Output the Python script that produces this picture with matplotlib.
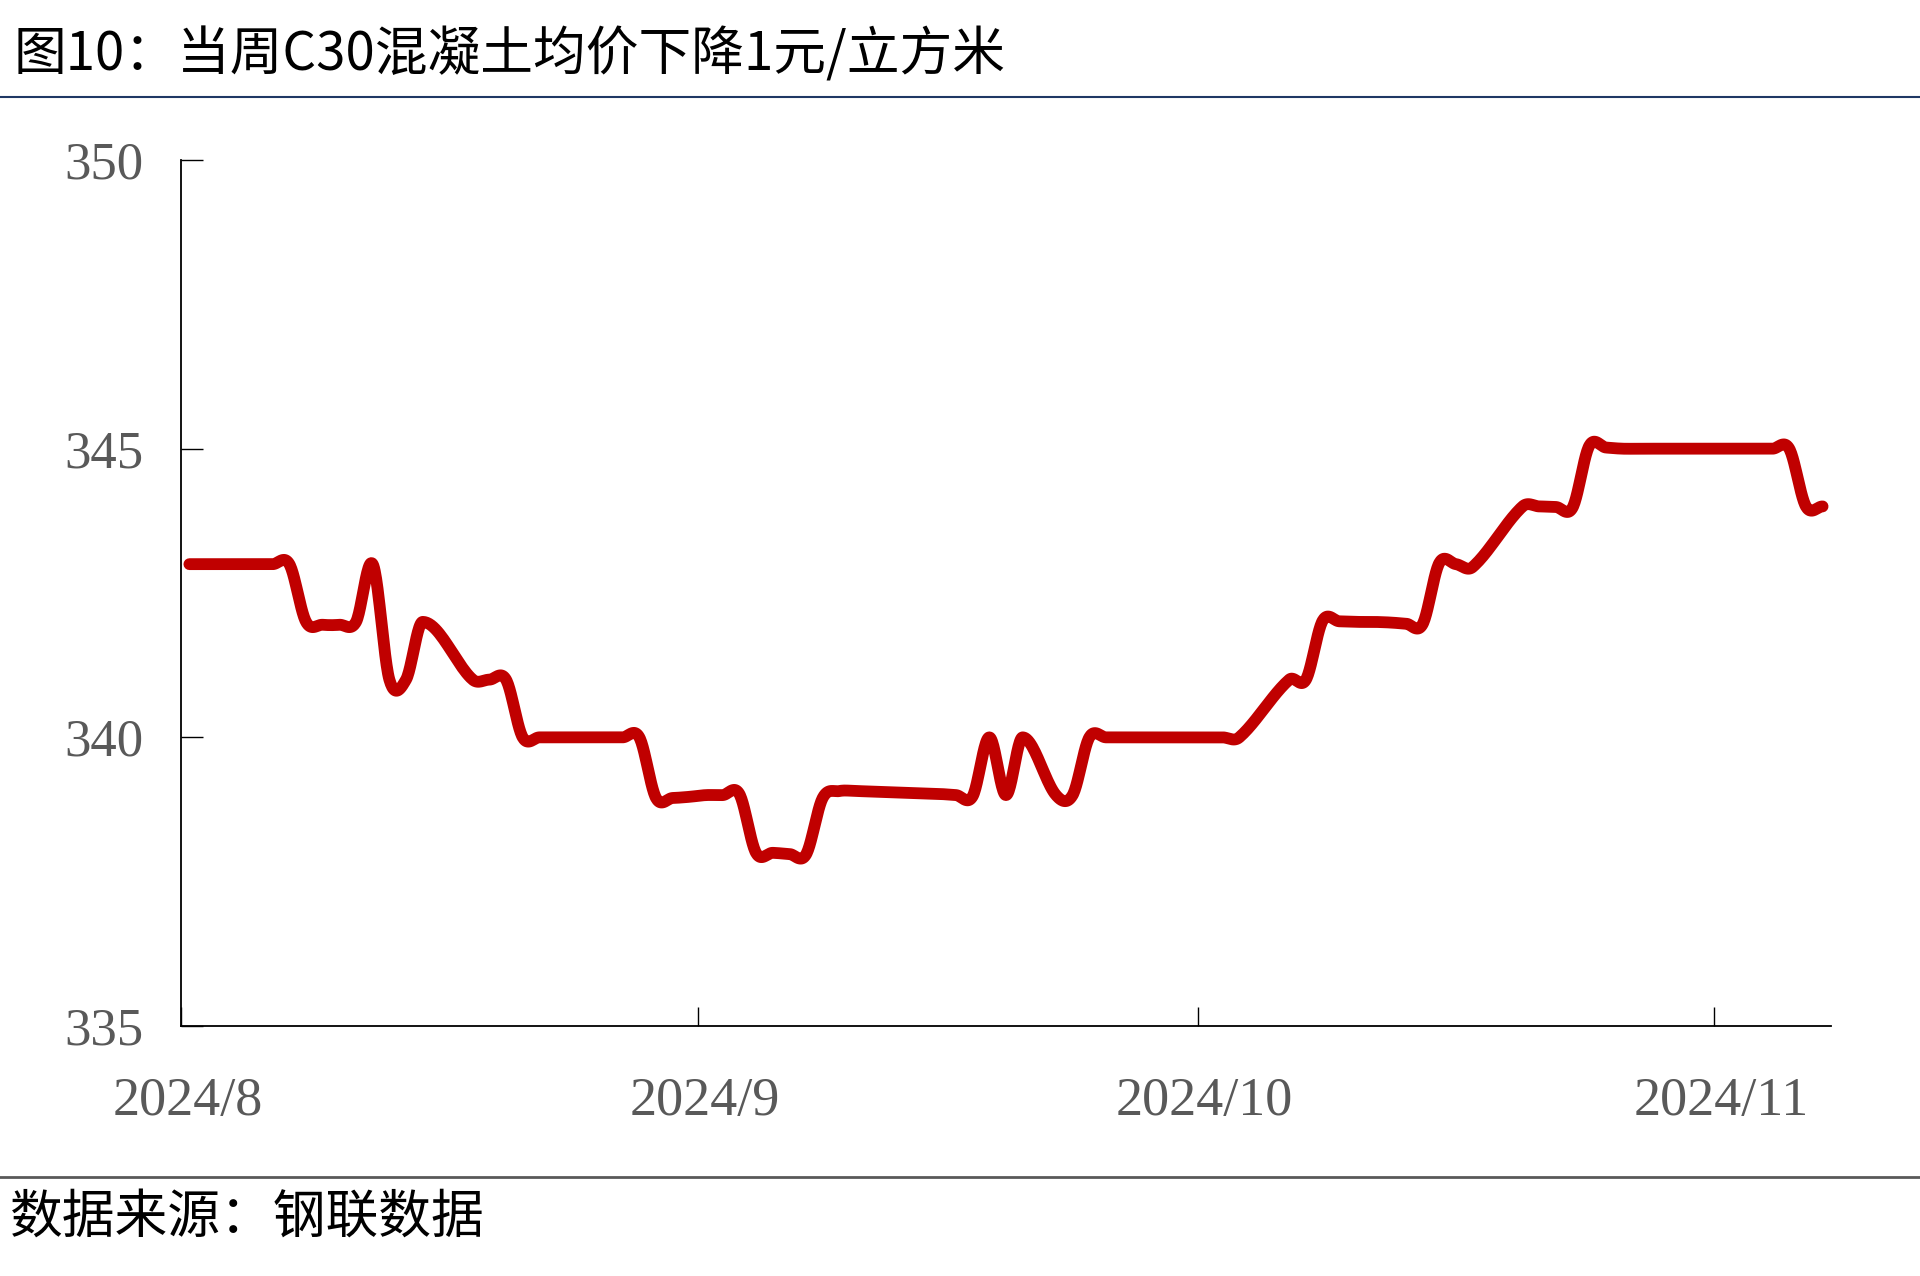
import numpy as np
import pandas as pd
import matplotlib
matplotlib.use("Agg")
import matplotlib.pyplot as plt
import matplotlib.dates as mdates
import matplotlib.transforms as mtransforms
from matplotlib.lines import Line2D

plt.rcParams['font.family'] = ['Noto Sans CJK SC', 'DejaVu Sans']

title = "图10：当周C30混凝土均价下降1元/立方米"
source = "数据来源：钢联数据"

# C30混凝土均价（元/立方米），缺失日期直接连线
dates = ["2024-08-01", "2024-08-02", "2024-08-03", "2024-08-04", "2024-08-05", "2024-08-06", "2024-08-07",
         "2024-08-08", "2024-08-09", "2024-08-10", "2024-08-11", "2024-08-12", "2024-08-13", "2024-08-14",
         "2024-08-15", "2024-08-18", "2024-08-19", "2024-08-20", "2024-08-21", "2024-08-22", "2024-08-23",
         "2024-08-24", "2024-08-25", "2024-08-26", "2024-08-27", "2024-08-28", "2024-08-29", "2024-08-30",
         "2024-08-31", "2024-09-01", "2024-09-02", "2024-09-03", "2024-09-04", "2024-09-05", "2024-09-06",
         "2024-09-07", "2024-09-08", "2024-09-09", "2024-09-10", "2024-09-11", "2024-09-12", "2024-09-13",
         "2024-09-14", "2024-09-15", "2024-09-16", "2024-09-17", "2024-09-18", "2024-09-19", "2024-09-20",
         "2024-09-22", "2024-09-23", "2024-09-24", "2024-09-25", "2024-09-26", "2024-09-27", "2024-09-28",
         "2024-09-29", "2024-09-30", "2024-10-01", "2024-10-02", "2024-10-03", "2024-10-06", "2024-10-07",
         "2024-10-08", "2024-10-09", "2024-10-10", "2024-10-11", "2024-10-12", "2024-10-13", "2024-10-14",
         "2024-10-15", "2024-10-16", "2024-10-17", "2024-10-20", "2024-10-21", "2024-10-22", "2024-10-23",
         "2024-10-24", "2024-10-25", "2024-10-26", "2024-10-27", "2024-10-28", "2024-10-29", "2024-10-30",
         "2024-10-31", "2024-11-01", "2024-11-02", "2024-11-03", "2024-11-04", "2024-11-05", "2024-11-06",
         "2024-11-07"]
prices = [343, 343, 343, 343, 343, 343, 343,
          342, 341.95, 341.95, 342, 343, 341, 341,
          342, 341, 341, 341, 340, 340, 340,
          340, 340, 340, 340, 340, 338.95, 338.95,
          338.97, 339, 339, 339.02, 338, 338, 337.98,
          337.97, 338.95, 339.07, 339.07, 339.06, 339.05, 339.04,
          339.03, 339.02, 339.0, 338.98, 340, 339, 340,
          339, 339, 340, 340, 340, 340, 340,
          340, 340, 340, 340, 340, 341, 341,
          342.02, 342.01, 342, 342, 341.99, 341.97, 341.96,
          343.02, 343, 342.95, 344, 344, 343.99, 343.98,
          345.05, 345.02, 345, 345, 345, 345, 345,
          345, 345, 345, 345, 345, 345, 344,
          344]

y_ticks = [335, 340, 345, 350]
x_ticks = ["2024-08-01", "2024-09-01", "2024-10-01", "2024-11-01"]
x_labels = ["2024/8", "2024/9", "2024/10", "2024/11"]


def smooth(x, y, n=24):
    # 平滑线：三次Hermite，切线取两侧差分
    x = np.asarray(x, float); y = np.asarray(y, float)
    m = np.zeros_like(y)
    m[1:-1] = (y[2:] - y[:-2]) / (x[2:] - x[:-2])
    m[0] = (y[1] - y[0]) / (x[1] - x[0]) / 2
    m[-1] = (y[-1] - y[-2]) / (x[-1] - x[-2]) / 2
    xs, ys = [], []
    t = np.linspace(0, 1, n, endpoint=False)
    for i in range(len(x) - 1):
        h = x[i + 1] - x[i]
        h00 = 2 * t ** 3 - 3 * t ** 2 + 1
        h10 = t ** 3 - 2 * t ** 2 + t
        h01 = -2 * t ** 3 + 3 * t ** 2
        h11 = t ** 3 - t ** 2
        xs.append(x[i] + t * h)
        ys.append(h00 * y[i] + h10 * h * m[i] + h01 * y[i + 1] + h11 * h * m[i + 1])
    xs.append([x[-1]]); ys.append([y[-1]])
    return np.concatenate(xs), np.concatenate(ys)


# 每日数据点放在当日中间
xnum = mdates.date2num(pd.to_datetime(dates)) + 0.5
sx, sy = smooth(xnum, prices)

fig = plt.figure(figsize=(19.2, 12.76), dpi=100)
ax = fig.add_axes([0.0943, 0.1959, 0.8593, 0.6787])

ax.plot(sx, sy, color="#C00000", lw=8.5, solid_capstyle="round", solid_joinstyle="round")

ax.set_ylim(335, 350)
ax.set_yticks(y_ticks)
ax.set_xlim(mdates.date2num(pd.Timestamp("2024-08-01")), mdates.date2num(pd.Timestamp("2024-11-08")))
ax.set_xticks(mdates.date2num(pd.to_datetime(x_ticks)))
ax.set_xticklabels(x_labels)

for s in ["top", "right"]:
    ax.spines[s].set_visible(False)
for s in ["left", "bottom"]:
    ax.spines[s].set_linewidth(1.3)
    ax.spines[s].set_color("black")

ax.tick_params(axis="y", direction="in", length=16, width=1, pad=27, labelsize=38, labelcolor="#595959")
ax.tick_params(axis="x", direction="in", length=14, width=1, pad=36, labelsize=39, labelcolor="#595959")
shift = mtransforms.ScaledTranslation(5 / 72, 0, fig.dpi_scale_trans)
for lab in ax.get_xticklabels():
    lab.set_family("Liberation Serif")
    lab.set_transform(lab.get_transform() + shift)
for lab in ax.get_yticklabels():
    lab.set_family("Liberation Serif")

fig.text(0.007, 0.957, title, fontsize=38, va="center", ha="left", color="black")
fig.add_artist(Line2D([0, 1], [0.924, 0.924], transform=fig.transFigure, color="#1F3864", lw=1.5))
fig.add_artist(Line2D([0, 1], [0.0776, 0.0776], transform=fig.transFigure, color="#595959", lw=2))
fig.text(0.005, 0.046, source, fontsize=38, va="center", ha="left", color="black")

fig.savefig("out.png", dpi=100)
